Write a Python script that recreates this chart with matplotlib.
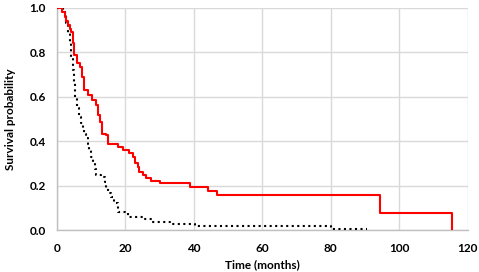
import matplotlib
matplotlib.use("Agg")
import matplotlib.pyplot as plt

# Kaplan-Meier step curves (months, survival)
red_times = [0, 1.4, 2.2, 2.7, 3.2, 3.7, 4.1, 4.6, 5.1, 5.8, 6.8, 7.4, 8.0, 9.0, 10.3, 11.3,
             12.0, 12.6, 13.2, 14.2, 14.9, 17.8, 19.3, 21.0, 22.2, 22.7, 23.7, 24.1, 25.1,
             26.1, 27.6, 30.0, 38.8, 44.2, 46.8, 94.4, 115.5]
red_surv = [1.0, 0.981, 0.959, 0.94, 0.921, 0.905, 0.891, 0.839, 0.787, 0.749, 0.734,
            0.689, 0.629, 0.607, 0.584, 0.562, 0.517, 0.487, 0.434, 0.427, 0.387, 0.374,
            0.36, 0.345, 0.33, 0.30, 0.285, 0.262, 0.247, 0.232, 0.222, 0.213, 0.195,
            0.178, 0.159, 0.078, 0.0]

black_times = [0, 1.7, 2.2, 2.7, 3.2, 3.7, 4.1, 4.6, 5.0, 5.4, 5.9, 6.4, 7.0, 7.6, 8.0,
               8.5, 9.0, 9.5, 10.0, 10.5, 11.0, 11.5, 12.9, 13.9, 14.4, 14.9, 15.9, 16.8,
               17.8, 19.8, 20.7, 25.6, 27.8, 33.0, 40.3, 80.0, 90.5]
black_surv = [1.0, 0.985, 0.965, 0.929, 0.885, 0.839, 0.78, 0.719, 0.66, 0.599, 0.55,
              0.509, 0.48, 0.449, 0.43, 0.412, 0.385, 0.36, 0.33, 0.30, 0.275, 0.247,
              0.24, 0.217, 0.19, 0.165, 0.15, 0.12, 0.082, 0.075, 0.06, 0.048, 0.036,
              0.026, 0.018, 0.006, 0.006]

x_ticks = [0, 20, 40, 60, 80, 100, 120]
y_ticks = [0.0, 0.2, 0.4, 0.6, 0.8, 1.0]

plt.rcParams["font.family"] = ["Lato", "DejaVu Sans"]

fig = plt.figure(figsize=(4.79, 2.72), dpi=100)
ax = fig.add_axes([0.119, 0.154, 0.857, 0.818])

ax.step(black_times, black_surv, where="post", color="black", linestyle=":", linewidth=1.5, zorder=3)
ax.step(red_times, red_surv, where="post", color="#ff0000", linewidth=1.5, zorder=4)

ax.set_xlim(0, 120)
ax.set_ylim(0, 1.0)
ax.set_xticks(x_ticks)
ax.set_yticks(y_ticks)
ax.set_xticklabels([str(t) for t in x_ticks], fontweight="bold", fontsize=8.5)
ax.set_yticklabels([f"{t:.1f}" for t in y_ticks], fontweight="bold", fontsize=8.5)
ax.tick_params(axis="x", length=0, pad=9)
ax.tick_params(axis="y", length=0, pad=8)
ax.grid(True, color="#d9d9d9", linewidth=1.0)
ax.set_axisbelow(True)
for side in ("top", "right"):
    ax.spines[side].set_visible(False)
for side in ("left", "bottom"):
    ax.spines[side].set_color("#bfbfbf")
    ax.spines[side].set_linewidth(1.0)

ax.set_xlabel("Time (months)", fontweight="bold", fontsize=8.5, labelpad=4)
ax.set_ylabel("Survival probability", fontweight="bold", fontsize=8.5, labelpad=10)

fig.savefig("out.png", dpi=100)
